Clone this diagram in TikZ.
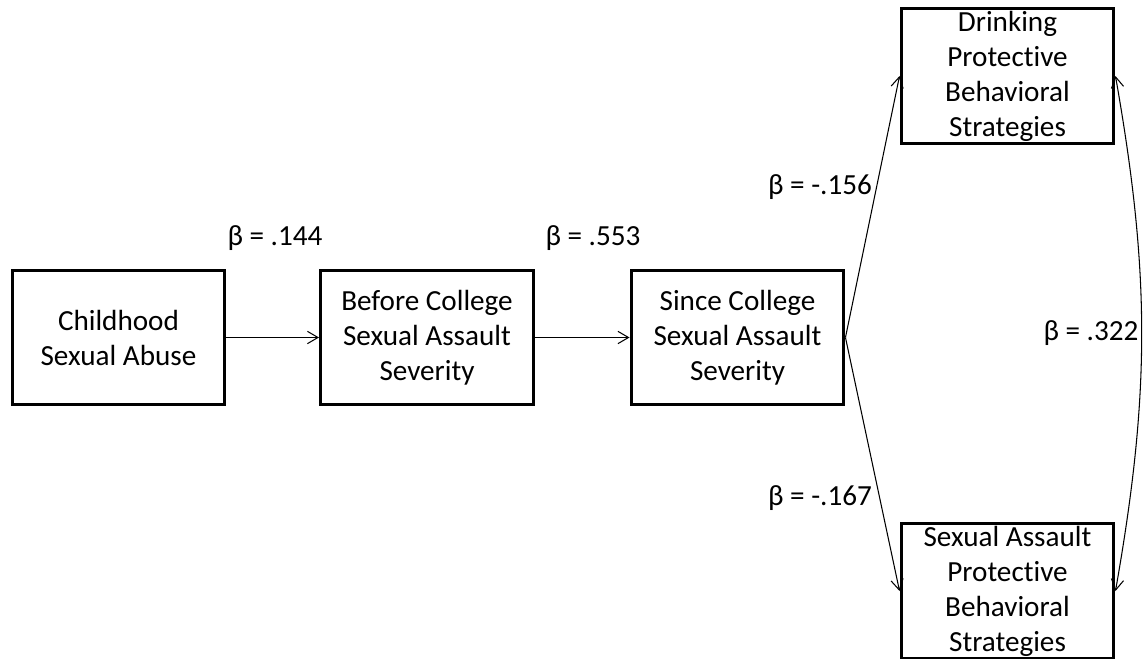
\documentclass[tikz,border=0pt]{standalone}
\usepackage{fontspec}
\setmainfont[Ligatures=NoCommon]{Carlito}
\usetikzlibrary{arrows.meta}
\tikzset{>={Straight Barb[length=6pt,width=7pt]}}
\tikzstyle{var}=[draw,line width=1.7pt,minimum width=4.26cm,minimum height=2.7cm,
  inner sep=0pt,align=center,font=\fontsize{16.6}{19.9}\selectfont]
\tikzstyle{effect}=[->,line width=0.6pt]
\tikzstyle{coef}=[inner sep=1pt,font=\fontsize{16.6}{19.9}\selectfont]

\begin{document}
\begin{tikzpicture}[x=0.02cm,y=-0.02cm]
  \useasboundingbox (0,0) rectangle (1144,659);

  % VARIABLES
  \node[var] (csa) at (118.5,337.5) {Childhood\\Sexual Abuse};
  \node[var] (bc)  at (427,337.5)   {Before College\\Sexual Assault\\Severity};
  \node[var] (sc)  at (737.5,337.5) {Since College\\Sexual Assault\\Severity};
  \node[var] (dr)  at (1007.5,76)   {Drinking\\Protective\\Behavioral\\Strategies};
  \node[var] (sa)  at (1007.5,591)  {Sexual Assault\\Protective\\Behavioral\\Strategies};

  % PATHS
  \draw[effect] (csa) -- (bc);
  \draw[effect] (bc) -- (sc);
  \draw[effect] (sc.east) -- (dr.west);
  \draw[effect] (sc.east) -- (sa.west);
  \draw[effect,<->] (dr.east) to[bend left=10] (sa.east);

  % COEFFICIENTS
  \node[coef] (b1) at (275,238)  {β = .144};
  \node[coef] (b2) at (593,238)  {β = .553};
  \node[coef] (b3) at (820,187)  {β = -.156};
  \node[coef] (b4) at (820,498)  {β = -.167};
  \node[coef] (b5) at (1091,333) {β = .322};

\end{tikzpicture}
\end{document}
